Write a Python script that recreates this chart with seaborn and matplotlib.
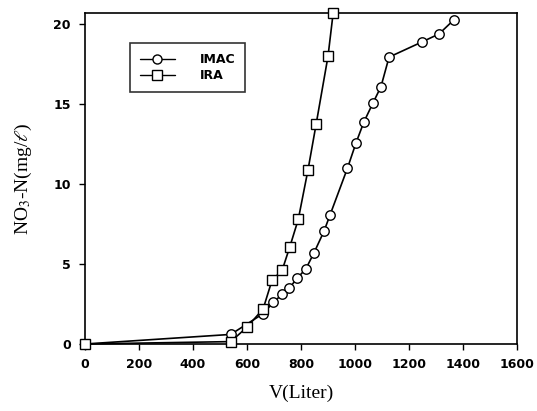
import matplotlib
matplotlib.use("Agg")
import matplotlib.pyplot as plt
import pandas as pd
import seaborn as sns
from matplotlib.lines import Line2D

# values
imac_v = [0, 540, 660, 697, 730, 757, 785, 818, 848, 885, 907, 972, 1004, 1033,
          1067, 1096, 1126, 1248, 1311, 1367]
imac_n = [0, 0.6, 1.9, 2.6, 3.1, 3.5, 4.1, 4.7, 5.7, 7.05, 8.05, 11.0, 12.6, 13.9,
          15.1, 16.1, 17.95, 18.9, 19.4, 20.3]
ira_v = [0, 540, 600, 660, 693, 730, 759, 790, 826, 856, 900, 919]
ira_n = [0, 0.15, 1.05, 2.2, 4.0, 4.6, 6.1, 7.8, 10.9, 13.75, 18.0, 20.7]
x_ticks = [0, 200, 400, 600, 800, 1000, 1200, 1400, 1600]
y_ticks = [0, 5, 10, 15, 20]

df = pd.concat([
    pd.DataFrame({"V": imac_v, "N": imac_n, "series": "IMAC"}),
    pd.DataFrame({"V": ira_v, "N": ira_n, "series": "IRA"}),
], ignore_index=True)

sns.set_style("ticks")
plt.rcParams["mathtext.fontset"] = "stix"
plt.rcParams["text.color"] = "black"
plt.rcParams["axes.labelcolor"] = "black"
plt.rcParams["xtick.color"] = "black"
plt.rcParams["ytick.color"] = "black"

fig = plt.figure(figsize=(5.37, 4.11), dpi=100)
ax = fig.add_axes([0.158, 0.163, 0.805, 0.805])

sns.lineplot(data=df, x="V", y="N", hue="series", style="series",
             markers={"IMAC": "o", "IRA": "s"}, dashes=False,
             palette={"IMAC": "black", "IRA": "black"},
             estimator=None, sort=False, legend=False, ax=ax,
             linewidth=1.2, markersize=6.8)

for line in ax.lines:
    line.set_markerfacecolor("white")
    line.set_markeredgecolor("black")
    line.set_markeredgewidth(1.0)
    line.set_clip_on(False)
    line.set_zorder(3)

ax.set_xlim(0, 1600)
ax.set_ylim(0, 20.7)
ax.set_xticks(x_ticks)
ax.set_yticks(y_ticks)
for lab in ax.get_xticklabels() + ax.get_yticklabels():
    lab.set_fontfamily("DejaVu Sans")
    lab.set_fontweight("bold")
    lab.set_fontsize(9)
    lab.set_color("black")
ax.tick_params(direction="out", length=4, width=1, color="black", pad=6)

for s in ax.spines.values():
    s.set_visible(True)
    s.set_color("black")
    s.set_linewidth(1.2)

ax.set_xlabel("V(Liter)", fontsize=14, family="Liberation Serif", labelpad=10,
              color="black")
ax.set_ylabel(r"NO$_3$-N(mg/$\ell$)", fontsize=14, family="Liberation Serif",
              labelpad=14, color="black")

handles = [
    Line2D([], [], color="black", marker="o", mfc="white", mec="black",
           lw=1.0, markersize=6.5, label="IMAC"),
    Line2D([], [], color="black", marker="s", mfc="white", mec="black",
           lw=1.0, markersize=6.5, label="IRA"),
]
leg = ax.legend(handles=handles, loc="upper left", bbox_to_anchor=(0.104, 0.909),
                frameon=True, fancybox=False, borderaxespad=0, handlelength=2.8,
                handletextpad=2.0, borderpad=0.8, labelspacing=0.25,
                prop={"family": "DejaVu Sans", "weight": "bold", "size": 9})
leg.get_frame().set_edgecolor("black")
leg.get_frame().set_linewidth(1.2)
for t in leg.get_texts():
    t.set_color("black")

fig.savefig("out.png", dpi=100)
